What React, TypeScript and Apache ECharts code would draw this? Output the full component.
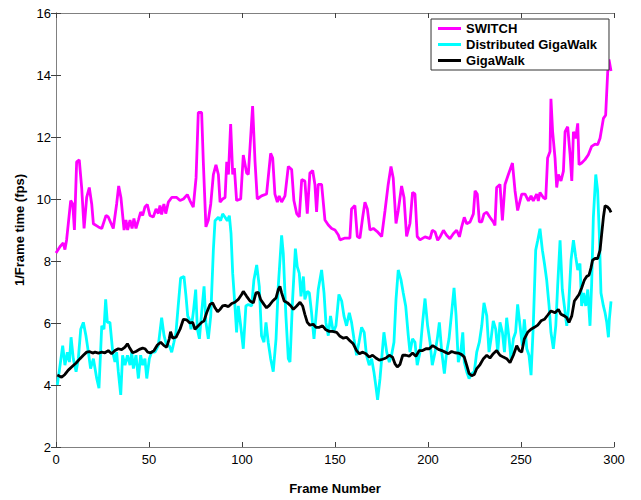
import React, { useEffect, useRef } from "react";
import * as echarts from "echarts";

const xTicks = [0, 50, 100, 150, 200, 250, 300];
const yTicks = [2, 4, 6, 8, 10, 12, 14, 16];
const seriesNames = ["SWITCH", "Distributed GigaWalk", "GigaWalk"];

const switchFrames = [0, 2.2, 3.9, 4.8, 5.7, 6.6, 7.9, 9, 9.9, 11.1, 12.5, 13.8, 15.1, 16.5, 17.9, 19.2, 20.1, 22.8, 24.6, 26.9, 28.1, 30.8, 32.6, 33.7, 34.9, 36.6, 37.6, 38.5, 39.8, 40.9, 41.9, 43, 44.3, 45.5, 46.6, 47.8, 49.1, 50.5, 52.3, 53.8, 55, 55.9, 56.8, 58, 59, 60.4, 62.2, 64.9, 66.7, 68.5, 70.6, 72, 73.8, 75.3, 76.5, 78.3, 79.2, 80.6, 81.9, 83.2, 84.6, 86, 87.3, 88.2, 89.6, 90.9, 91.8, 92.7, 93.9, 95, 95.9, 97.1, 99.3, 100.7, 102.5, 103.4, 105.7, 107, 108.2, 110.5, 113.2, 115.4, 116.5, 117.7, 119, 120, 121.3, 123.1, 124.9, 126.7, 127.9, 129.4, 130.8, 132.1, 133.8, 135.1, 136.5, 138, 139.2, 140.1, 141, 142.8, 144.6, 146.4, 148.2, 150, 151.8, 152.7, 155.4, 158, 158.9, 160.7, 162, 163.4, 164.9, 166.1, 167.4, 168.8, 170.6, 172.7, 175.1, 176.9, 178.6, 180.1, 181.3, 182.8, 184, 185.8, 187.1, 188.5, 190.3, 191.7, 193, 194.2, 195.7, 198.4, 201.1, 202.3, 203.8, 205.2, 206.5, 208.3, 210, 211.8, 213.6, 215.4, 216.9, 218.1, 219.5, 220.8, 222.6, 224.4, 225.3, 226.5, 227.6, 228.9, 230.1, 231.6, 233.3, 235.1, 236, 236.9, 238.7, 240, 241.4, 243.2, 245.4, 246.8, 248.2, 250.4, 252.2, 254, 255.4, 256.6, 258.4, 259.3, 260.2, 262, 263.3, 264.3, 265.6, 266.1, 267, 268.3, 269.2, 270.1, 271.5, 272.8, 273.7, 275.1, 276.4, 277.3, 278.2, 279.4, 280.5, 281.2, 282.6, 284.4, 286.2, 288, 289.8, 291.2, 292.5, 294.3, 295.5, 296.6, 297.3, 298.4];
const switchFps = [8.26, 8.47, 8.58, 8.37, 8.68, 9.2, 9.95, 9.84, 9.0, 11.2, 11.26, 10.37, 9.05, 10.05, 10.37, 9.84, 9.2, 9.1, 9.05, 9.47, 9.42, 9.05, 9.84, 10.42, 10.05, 9.0, 9.32, 9.0, 9.32, 9.05, 9.37, 9.05, 9.32, 9.58, 9.47, 9.74, 9.82, 9.47, 9.42, 9.68, 9.53, 9.79, 9.5, 9.84, 9.53, 9.9, 10.05, 10.05, 9.95, 10.0, 10.14, 9.95, 9.74, 10.68, 12.79, 12.79, 11.2, 9.1, 9.32, 9.84, 10.79, 11.1, 10.79, 9.9, 10.0, 10.05, 11.2, 10.79, 12.42, 10.79, 11.0, 9.95, 10.0, 11.42, 10.84, 10.79, 13.0, 11.21, 10.0, 10.1, 10.16, 11.47, 11.32, 10.16, 9.9, 10.1, 9.9, 10.1, 11.05, 10.95, 9.95, 9.53, 9.42, 10.63, 10.58, 9.53, 10.84, 10.92, 10.47, 9.58, 10.47, 10.47, 9.32, 9.16, 9.05, 9.0, 8.84, 8.68, 8.74, 8.74, 9.68, 9.79, 8.79, 8.74, 9.42, 9.9, 9.68, 9.0, 9.05, 8.95, 8.79, 9.63, 10.47, 11.05, 10.68, 9.21, 9.63, 10.42, 10.05, 8.79, 9.21, 10.21, 10.16, 8.79, 8.68, 8.78, 8.72, 8.99, 8.94, 8.67, 8.78, 8.99, 8.83, 8.72, 8.88, 8.99, 8.78, 9.1, 9.41, 9.2, 9.26, 9.52, 10.26, 10.16, 9.26, 9.26, 9.52, 9.57, 9.41, 9.26, 9.15, 10.37, 10.47, 9.31, 10.47, 10.79, 11.16, 10.26, 9.63, 10.16, 10.16, 9.94, 10.1, 9.94, 10.16, 9.94, 10.21, 10.05, 10.0, 11.32, 11.53, 13.23, 12.17, 11.32, 10.37, 10.79, 10.58, 10.9, 12.17, 12.33, 11.43, 10.58, 12.17, 11.96, 12.44, 11.11, 11.16, 11.27, 11.43, 11.7, 11.77, 11.75, 11.96, 12.6, 12.7, 14.08, 14.5, 14.13];

const distFrames = [0.7, 2.2, 3.6, 4.8, 6.1, 7.2, 8.1, 9.3, 10.8, 12.0, 13.3, 14.7, 16.1, 17.4, 18.6, 20.1, 21.9, 23.1, 24.6, 25.8, 26.7, 27.6, 29.0, 30.5, 31.7, 32.6, 33.5, 34.8, 35.8, 37.1, 38.4, 39.8, 40.7, 41.6, 43, 44.3, 45.5, 46.6, 47.8, 48.8, 50.2, 51.4, 53.2, 55, 56.8, 58.1, 59.5, 60.9, 62.2, 63.4, 64.5, 65.7, 67, 68.8, 69.9, 70.8, 71.7, 72.6, 73.8, 75.1, 76, 77.1, 78.3, 79.6, 80.6, 81.9, 83.2, 84.6, 85.5, 87.3, 88.5, 89.6, 90.9, 92.1, 93.2, 94.1, 95, 96.2, 97.1, 98, 99.3, 100.7, 102.1, 103.4, 105.2, 106.4, 107.9, 109.3, 110.5, 111.8, 112.9, 114.1, 115.4, 116.8, 118.3, 119.5, 121.3, 122.2, 123.6, 124.9, 125.8, 127.2, 128.7, 129.7, 130.8, 131.7, 133, 133.8, 135.1, 136.2, 137.4, 138.7, 139.8, 141, 142.8, 144.1, 145.1, 146.4, 147.6, 149.1, 150.5, 152.1, 153.6, 154.8, 156.2, 157.7, 158.9, 160.2, 161.6, 162.9, 164.3, 165.7, 166.9, 168.4, 169.7, 170.9, 172, 172.9, 174.2, 175.1, 176.3, 177.8, 179.2, 180.4, 181.7, 182.8, 184, 185.5, 186.7, 188, 189.4, 190.3, 191.7, 193, 194.2, 195.7, 197.1, 198.4, 199.8, 201.1, 202.3, 203.8, 205, 206.1, 207.4, 208.8, 210, 211.3, 212.7, 214, 215.1, 216.3, 217.6, 218.7, 219.5, 220.8, 222.1, 223.5, 224.9, 226.2, 227.6, 228.9, 230.1, 231.6, 232.8, 233.9, 235.1, 236.4, 237.5, 238.7, 240, 241.1, 242.3, 243.6, 244.6, 245.9, 247.1, 248.2, 249.5, 250.7, 251.8, 253.1, 254.3, 255.4, 256.6, 257.9, 259, 260.2, 261.5, 262.6, 263.8, 265.1, 266.1, 267.4, 268.7, 269.7, 271, 272.2, 273.3, 274.6, 275.5, 276.9, 278.2, 279.4, 280.5, 281.7, 282.6, 283.7, 284.8, 285.9, 287.1, 288, 288.9, 290.2, 291.2, 292.1, 293, 294.3, 295.2, 296.1, 297, 297.5, 298.4];
const distFps = [4.0, 4.64, 5.27, 4.64, 5.06, 4.74, 5.54, 4.85, 4.43, 4.85, 5.8, 6.02, 5.59, 5.06, 4.53, 4.85, 4.21, 3.9, 5.91, 5.8, 6.76, 6.02, 6.02, 5.06, 4.74, 5.06, 4.43, 3.68, 4.96, 4.64, 4.96, 4.64, 5.06, 4.53, 4.96, 4.21, 4.96, 4.64, 4.85, 4.21, 4.85, 5.06, 5.06, 5.27, 6.17, 5.59, 5.27, 5.27, 5.06, 5.38, 5.7, 6.55, 7.45, 7.5, 6.86, 6.23, 6.12, 5.8, 6.33, 7.08, 5.8, 5.49, 6.33, 7.18, 6.02, 5.49, 6.23, 8.35, 9.3, 9.41, 9.3, 9.52, 9.41, 9.3, 9.46, 8.88, 7.6, 6.55, 5.7, 6.55, 5.91, 5.17, 6.55, 6.6, 6.55, 7.39, 7.87, 7.18, 5.59, 5.38, 6.02, 5.38, 4.85, 4.43, 5.49, 7.18, 8.83, 8.24, 6.23, 4.85, 4.74, 6.76, 8.4, 7.82, 7.6, 6.86, 7.5, 6.76, 7.02, 6.97, 6.33, 5.49, 6.23, 7.08, 7.71, 6.97, 6.02, 5.59, 6.23, 5.7, 5.91, 6.92, 6.71, 6.23, 5.91, 6.33, 6.02, 5.49, 4.96, 5.38, 5.86, 5.7, 4.96, 4.64, 4.85, 4.43, 3.95, 3.52, 4.21, 4.85, 5.7, 5.06, 4.74, 4.96, 5.38, 6.76, 7.71, 7.39, 6.97, 6.55, 5.59, 5.06, 5.49, 5.38, 4.64, 5.06, 6.02, 6.79, 5.91, 5.38, 4.64, 5.06, 5.49, 6.02, 5.06, 4.37, 5.06, 5.49, 6.33, 7.13, 6.23, 4.74, 5.06, 5.7, 4.74, 4.43, 4.21, 4.37, 4.43, 5.06, 5.38, 5.91, 6.65, 6.23, 5.06, 5.49, 6.07, 5.8, 5.06, 6.02, 5.7, 5.06, 6.17, 5.49, 4.85, 5.49, 5.7, 6.6, 5.91, 5.27, 6.12, 5.17, 4.96, 4.32, 5.91, 8.35, 8.67, 9.04, 8.35, 7.92, 7.39, 6.55, 5.7, 5.17, 5.91, 7.18, 8.67, 7.08, 6.55, 5.91, 6.44, 8.03, 8.67, 8.14, 7.71, 7.92, 6.55, 6.97, 6.55, 7.08, 5.91, 7.29, 9.41, 10.79, 10.26, 8.88, 6.97, 6.55, 6.33, 6.02, 5.54, 6.12, 6.7];

const gigaFrames = [0.7, 3, 4.8, 6.6, 8.4, 10.8, 12.9, 14.7, 16.5, 17.9, 19.7, 21, 22.8, 24.6, 26.3, 28.1, 29.9, 31.7, 33.5, 35.3, 37.1, 38.4, 39.4, 41.2, 43, 44.8, 46.6, 47.8, 49.3, 50.9, 52.7, 54.5, 56.3, 58.1, 59.5, 60.9, 61.6, 62.7, 64.5, 66.7, 68.5, 70.3, 72, 73.5, 74.7, 76.5, 78.3, 79.6, 81, 82.8, 84.2, 85.5, 86.9, 88.2, 89.6, 90.9, 92.7, 94.5, 96.2, 98, 99.8, 100.7, 102.5, 104.3, 106.1, 107.5, 108.8, 110, 111.8, 113.2, 114.7, 116.5, 118.3, 119.5, 120.4, 121.3, 122.7, 124.5, 126.3, 127.6, 129.4, 131.2, 132.6, 133.8, 135.1, 136.5, 138.3, 139.8, 141.6, 143.3, 145.1, 146.9, 148.7, 150.9, 152.7, 154.5, 156.2, 158, 159.8, 161.6, 163.1, 164.9, 166.6, 168.4, 170.2, 172, 173.8, 175.6, 177.4, 179.2, 180.9, 182.2, 183.5, 184.9, 186.4, 188.1, 189.9, 191.7, 193.5, 195.3, 197.1, 198.9, 200.7, 202.5, 203.8, 205.6, 207.4, 209.2, 211, 212.7, 214.5, 216.3, 218.1, 219.5, 220.8, 222.1, 223.5, 224.9, 226.2, 228, 229.8, 231.6, 233.3, 235.1, 236.9, 238.7, 240.5, 242.3, 244.1, 245.9, 247.7, 249.1, 250.4, 251.8, 253.6, 255.4, 257.2, 259, 260.8, 262.6, 264.3, 266.1, 268.3, 270.1, 271.5, 273.3, 274.6, 275.8, 277.3, 278.7, 279.9, 281.2, 282.6, 284.1, 285.3, 286.6, 287.6, 288.5, 289.8, 291.2, 292.5, 293.4, 294.3, 295.2, 296.4, 297.5, 298.4];
const gigaFps = [4.32, 4.25, 4.34, 4.48, 4.58, 4.71, 4.85, 4.96, 5.06, 5.08, 5.03, 5.06, 5.03, 5.06, 5.04, 5.11, 5.01, 5.11, 5.17, 5.14, 5.22, 5.33, 5.22, 5.04, 5.08, 5.15, 5.19, 5.17, 5.06, 5.04, 5.11, 5.29, 5.38, 5.27, 5.22, 5.49, 5.72, 5.51, 5.54, 5.8, 6.12, 6.1, 6.0, 6.02, 5.8, 5.91, 6.02, 6.07, 6.33, 6.6, 6.65, 6.49, 6.36, 6.44, 6.55, 6.57, 6.53, 6.63, 6.67, 6.76, 6.92, 7.02, 6.86, 6.71, 6.65, 6.97, 6.99, 6.76, 6.6, 6.49, 6.57, 6.71, 6.81, 7.08, 7.18, 6.97, 6.71, 6.65, 6.55, 6.44, 6.55, 6.67, 6.55, 6.28, 6.02, 5.93, 5.96, 5.86, 5.86, 5.91, 5.78, 5.73, 5.73, 5.7, 5.57, 5.51, 5.54, 5.43, 5.33, 5.11, 5.01, 5.06, 5.01, 4.9, 4.96, 4.87, 4.8, 4.83, 4.87, 4.96, 4.9, 4.69, 4.58, 4.66, 4.96, 4.96, 4.93, 5.03, 4.93, 5.11, 5.11, 5.17, 5.17, 5.27, 5.22, 5.15, 5.11, 5.06, 5.01, 5.08, 5.04, 5.03, 4.98, 4.9, 4.64, 4.37, 4.3, 4.34, 4.53, 4.66, 4.85, 4.96, 4.87, 5.01, 5.11, 4.96, 4.9, 4.85, 4.72, 4.96, 5.27, 5.11, 5.06, 5.49, 5.7, 5.8, 5.86, 5.93, 6.07, 6.12, 6.25, 6.39, 6.33, 6.44, 6.28, 6.23, 6.17, 6.02, 6.23, 6.71, 6.81, 6.92, 7.13, 7.39, 7.5, 7.55, 7.77, 8.03, 8.08, 8.08, 8.35, 8.88, 9.41, 9.78, 9.75, 9.68, 9.57];

const pairs = (xs: number[], ys: number[]) => xs.map((x, i) => [x, ys[i]]);

export default function App() {
  const ref = useRef<HTMLDivElement>(null);
  useEffect(() => {
    if (!ref.current) return;
    const chart = echarts.init(ref.current, undefined, { renderer: "svg" });
    const font = "Arial, 'Liberation Sans', sans-serif";
    const axisLine = { show: true, lineStyle: { color: "#808080", width: 1 } };
    const axisTick = { show: true, inside: true, length: 5, lineStyle: { color: "#404040" } };
    chart.setOption({
      animation: false,
      backgroundColor: "#ffffff",
      grid: { left: 56, right: 27, top: 13, bottom: 47, containLabel: false },
      legend: {
        orient: "vertical",
        right: 32,
        top: 19,
        backgroundColor: "#ffffff",
        borderColor: "#333333",
        borderWidth: 1,
        padding: [3, 12, 3, 7],
        itemGap: 3,
        itemWidth: 23,
        itemHeight: 3,
        icon: "rect",
        data: seriesNames,
        textStyle: { fontFamily: font, fontWeight: "bold", fontSize: 13, color: "#000" },
      },
      xAxis: [
        {
          type: "value",
          min: xTicks[0],
          max: xTicks[xTicks.length - 1],
          interval: 50,
          name: "Frame Number",
          nameLocation: "middle",
          nameGap: 35,
          nameTextStyle: { fontFamily: font, fontWeight: "bold", fontSize: 13, color: "#000" },
          axisLine,
          axisTick,
          splitLine: { show: false },
          axisLabel: { fontFamily: font, fontSize: 13, color: "#000", margin: 6 },
        },
        {
          type: "value",
          position: "top",
          min: xTicks[0],
          max: xTicks[xTicks.length - 1],
          interval: 50,
          axisLine,
          axisTick,
          splitLine: { show: false },
          axisLabel: { show: false },
        },
      ],
      yAxis: [
        {
          type: "value",
          min: yTicks[0],
          max: yTicks[yTicks.length - 1],
          interval: 2,
          name: "1/Frame time (fps)",
          nameLocation: "middle",
          nameGap: 30,
          nameTextStyle: { fontFamily: font, fontWeight: "bold", fontSize: 13, color: "#000" },
          axisLine,
          axisTick,
          splitLine: { show: false },
          axisLabel: { fontFamily: font, fontSize: 13, color: "#000", margin: 5 },
        },
        {
          type: "value",
          position: "right",
          min: yTicks[0],
          max: yTicks[yTicks.length - 1],
          interval: 2,
          axisLine,
          axisTick,
          splitLine: { show: false },
          axisLabel: { show: false },
        },
      ],
      series: [
        {
          name: seriesNames[0],
          type: "line",
          data: pairs(switchFrames, switchFps),
          showSymbol: false,
          color: "#ff00ff",
          lineStyle: { width: 2.8, color: "#ff00ff" },
        },
        {
          name: seriesNames[1],
          type: "line",
          data: pairs(distFrames, distFps),
          showSymbol: false,
          color: "#00ffff",
          lineStyle: { width: 2.8, color: "#00ffff" },
        },
        {
          name: seriesNames[2],
          type: "line",
          data: pairs(gigaFrames, gigaFps),
          showSymbol: false,
          color: "#000000",
          lineStyle: { width: 2.8, color: "#000000" },
        },
      ],
    });
    return () => chart.dispose();
  }, []);
  return <div ref={ref} style={{ width: 641, height: 500, position: "absolute", left: 0, top: 0 }} />;
}
